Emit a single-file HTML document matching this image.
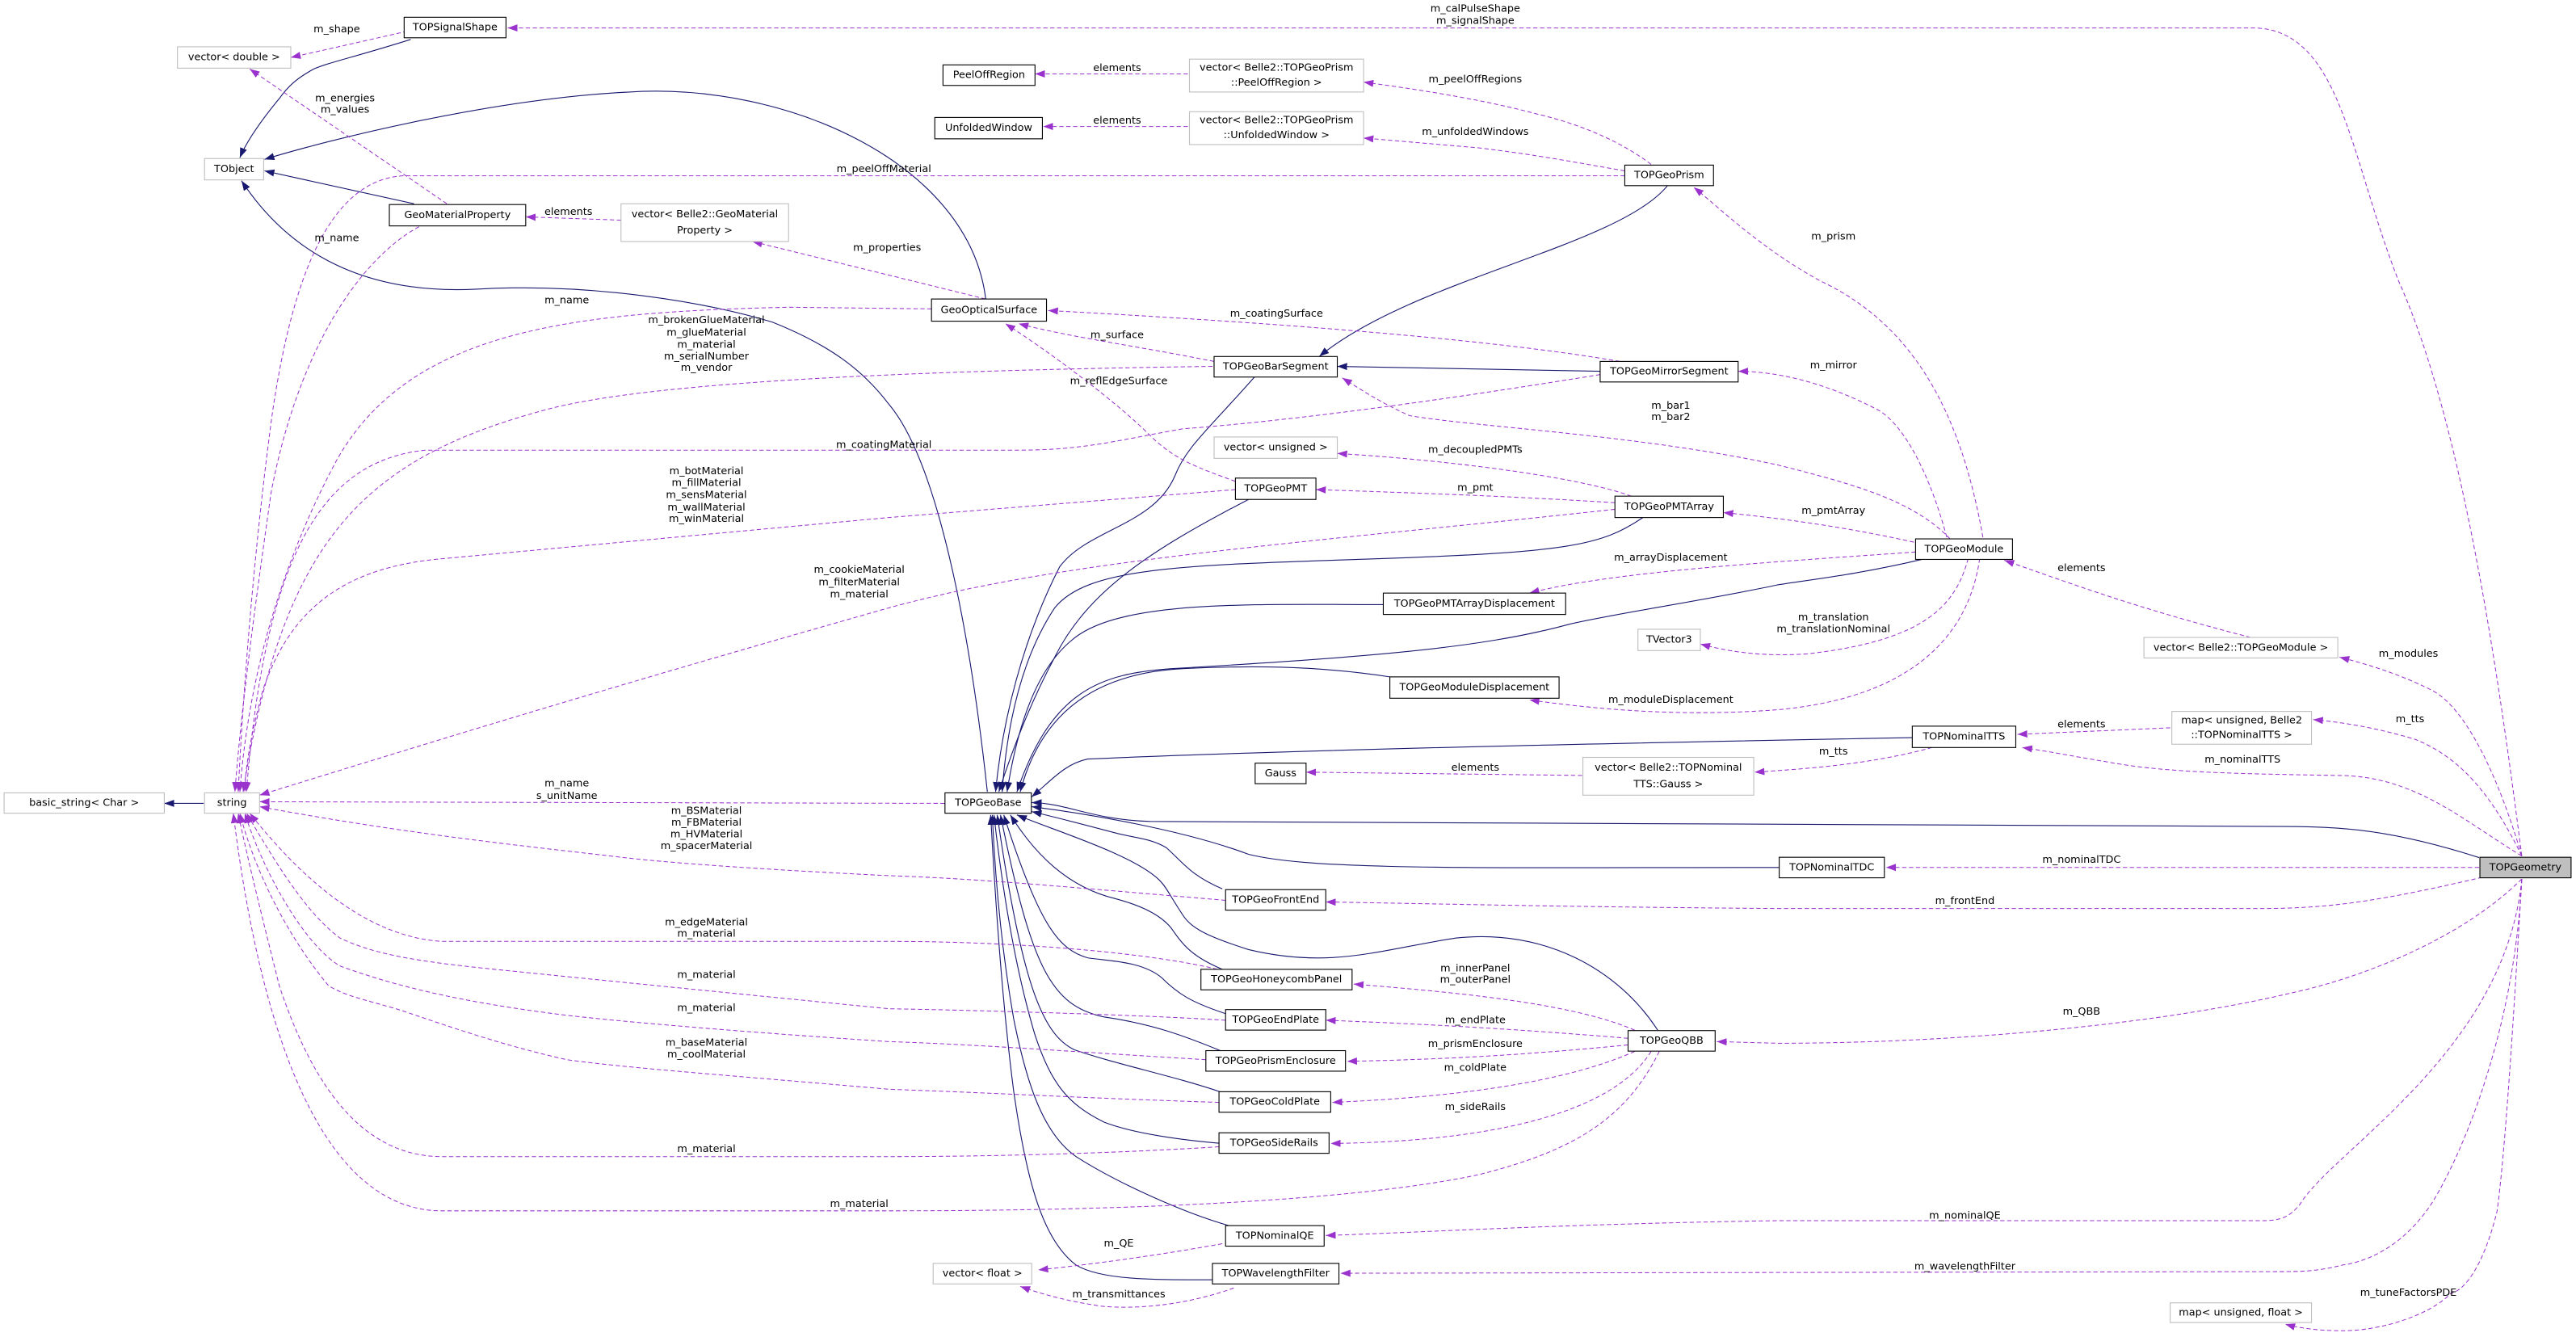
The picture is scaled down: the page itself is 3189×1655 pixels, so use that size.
<!DOCTYPE html>
<html><head><meta charset="utf-8"><style>
html,body{margin:0;padding:0;background:#fff;}
svg{display:block;}
text{font-family:"DejaVu Sans","Liberation Sans",sans-serif;font-size:6.3px;fill:#000;text-anchor:middle;dominant-baseline:central;}
.n{fill:#fff;stroke:#000;stroke-width:0.55;}
.g{fill:#fff;stroke:#bfbfbf;stroke-width:0.55;}
.s{fill:none;stroke:#191970;stroke-width:0.55;}
.d{fill:none;stroke:#9a32cd;stroke-width:0.5;stroke-dasharray:2.6,1.6;}
</style></head><body>
<svg width="3189" height="1655" viewBox="0 0 1568 813.8" preserveAspectRatio="none" xmlns="http://www.w3.org/2000/svg">
<defs>
<marker id="an" markerUnits="userSpaceOnUse" markerWidth="7" markerHeight="5" refX="6" refY="2.2" orient="auto"><path d="M0,0 L6,2.2 L0,4.4 z" fill="#191970"/></marker>
<marker id="ap" markerUnits="userSpaceOnUse" markerWidth="7" markerHeight="5" refX="6" refY="2.2" orient="auto"><path d="M0,0 L6,2.2 L0,4.4 z" fill="#9a32cd"/></marker>
</defs>

<g class="s" marker-end="url(#an)">
<path d="M250,24 C215,35 200,38 191,42 C180,48 175,53 170,60 C160,72 150,86 146,96"/>
<path d="M600,182 C590,100 480,50 383,56 C300,60 200,85 161,97"/>
<path d="M252,124 L161,104"/>
<path d="M601,482 C590,380 570,280 541,246 C525,225 505,210 470,196 C430,184 360,172 290,176 C230,179 180,160 147,110"/>
<path d="M1015,113 C985,150 860,170 803,217"/>
<path d="M974,226 L814,223"/>
<path d="M764,229 C735,262 722,272 715,290 C702,320 662,322 645,345 C622,390 610,440 606,482"/>
<path d="M760,304 C700,335 662,360 642,400 C626,430 615,460 608,482"/>
<path d="M1000,315 C975,332 955,336 841,340 C720,344 662,345 642,370 C622,400 613,440 610,482"/>
<path d="M842,368 C760,368 680,365 652,390 C628,410 618,450 613,482"/>
<path d="M1172,340 C1130,350 1100,353 1082,356 C1040,365 980,374 955,380 C900,395 830,400 713,407 C670,410 640,420 619,482"/>
<path d="M846,412 C800,405 760,405 720,407 C660,410 632,440 621,482"/>
<path d="M1164,449 C1000,452 800,456 662,462 C648,465 640,475 628,485"/>
<path d="M1509,522 C1450,503 1420,503 1376,503 L700,500 C665,499 650,489 628,488.5"/>
<path d="M1083,528 C900,528 800,530 760,520 C720,505 660,495 628,491"/>
<path d="M744,541 C725,533 720,525 710,516 C700,510 690,510 679,507 C660,502 645,498 628,494"/>
<path d="M1009,627 C985,590 940,565 886,571 C840,578 810,590 760,578 C735,570 725,565 720,557 C712,545 710,540 706,536 C690,520 640,505 619,496"/>
<path d="M744,590 C725,582 720,575 713,565 C705,555 690,550 679,547 C650,540 630,520 615,496"/>
<path d="M746,617 C725,610 717,605 707,595 C695,585 675,585 662,583 C645,578 633,565 611,496"/>
<path d="M744,640 C720,630 700,623 672,619 C640,612 628,590 609,496"/>
<path d="M744,665 C715,655 680,648 654,639 C635,630 622,600 607,496"/>
<path d="M744,696 C720,694 690,690 672,683 C650,672 640,660 630,630 C618,590 610,540 605,496"/>
<path d="M748,746 C720,738 680,720 655,704 C635,690 625,660 617,620 C610,580 606,540 604,496"/>
<path d="M738,779 C700,779 670,779 655,770 C635,755 625,720 617,664 C610,610 606,550 603,496"/>
<path d="M124,489 L100,489"/>
</g>

<g class="d" marker-end="url(#ap)">
<path d="M1535,521 C1522,420 1500,260 1460,171 C1430,95 1425,17 1371,17 L309,17"/>
<path d="M248,19 L177,35"/>
<path d="M272,124 L152,42"/>
<path d="M378,134 L320,132"/>
<path d="M255,138 C215,160 180,220 165,300 C155,370 147,430 143,482"/>
<path d="M989,107 L245,107 C200,110 178,170 166,250 C155,330 148,420 145,482"/>
<path d="M567,188 L480,187 C350,190 250,200 205,280 C178,330 152,400 146,482"/>
<path d="M738,223 C600,225 400,230 330,250 C220,280 172,330 148,482"/>
<path d="M974,228 C900,240 800,255 720,261 C680,268 660,274 620,274 L259,274 C200,280 162,330 150,482"/>
<path d="M752,298 L541,315 L270,340 C210,345 177,370 160,420 C152,450 149,470 149,482"/>
<path d="M983,310 C800,330 650,340 541,370 C400,410 300,440 158,484"/>
<path d="M575,489 L158,488"/>
<path d="M746,548 C650,540 600,535 541,533 C480,530 414,526 380,522 C320,515 250,508 158,491"/>
<path d="M741,590 C700,580 620,573 541,573 L269,573 C220,570 180,530 152,495"/>
<path d="M746,621 C700,618 600,615 541,614 C450,605 350,595 311,591 C260,586 230,582 207,571 C185,555 165,520 150,495"/>
<path d="M734,645 C650,640 600,636 541,634 C450,628 380,622 345,618 C280,610 240,600 207,588 C185,575 160,530 149,495"/>
<path d="M742,671 C650,668 600,665 541,663 C450,655 380,650 345,645 C300,635 260,620 241,614 C220,608 210,606 200,600 C175,570 155,530 146,495"/>
<path d="M742,698 C680,702 600,704 541,704 L269,704 C220,704 190,660 170,600 C160,560 150,520 145,495"/>
<path d="M1010,640 C990,680 960,700 900,715 C830,730 700,737 541,737 L269,737 C200,737 160,640 142,495"/>
<path d="M723,45 L630,45"/>
<path d="M1005,100 C985,85 960,75 934,69 C900,60 860,54 830,50"/>
<path d="M989,104 C960,99 934,94 900,90 L830,84"/>
<path d="M723,77 L635,77"/>
<path d="M600,182 L458,147"/>
<path d="M739,220 C700,212 650,205 620,197"/>
<path d="M986,220 C900,205 750,195 638,189"/>
<path d="M752,293 C730,285 715,280 700,265 C680,245 640,215 612,197"/>
<path d="M1187,328 C1165,305 1130,295 1082,283 C1000,265 900,260 858,253 C840,245 825,235 817,230"/>
<path d="M1207,327 C1195,260 1170,200 1108,171 C1070,150 1045,125 1031,114"/>
<path d="M1185,327 C1175,290 1160,260 1144,250 C1110,232 1080,226 1058,226"/>
<path d="M993,302 C960,290 880,280 814,276"/>
<path d="M983,306 C920,302 860,300 801,298"/>
<path d="M1165,330 C1120,320 1080,315 1049,312"/>
<path d="M1166,336 C1080,342 980,348 931,361"/>
<path d="M1198,340 C1190,370 1170,390 1100,398 C1070,400 1050,396 1035,392"/>
<path d="M1205,340 C1198,390 1160,425 1082,432 C1030,436 980,433 931,426"/>
<path d="M1370,388 C1300,370 1260,355 1220,341"/>
<path d="M1535,521 C1520,470 1500,430 1480,420 C1460,410 1440,404 1424,400"/>
<path d="M1535,521 C1515,480 1495,460 1470,450 C1450,444 1430,440 1408,438"/>
<path d="M1321,443 L1228,447"/>
<path d="M1535,521 C1500,500 1470,472 1423,472 C1360,471 1320,470 1290,465 C1260,460 1245,457 1231,455"/>
<path d="M963,472 L795,470"/>
<path d="M1176,455 C1140,465 1100,468 1068,470"/>
<path d="M1509,528 L1148,528"/>
<path d="M1511,534 C1450,548 1420,553 1376,553 L1082,553 C950,552 870,550 807,549"/>
<path d="M1535,535 C1500,570 1440,595 1392,605 C1320,622 1200,635 1082,635 L1045,634"/>
<path d="M1535,535 C1525,640 1420,700 1400,733 C1392,743 1385,743 1374,743 L1082,743 C950,745 870,750 807,752"/>
<path d="M1535,535 C1530,640 1490,720 1477,737 C1460,760 1440,768 1426,770 C1410,774 1400,774 1387,774 L816,775"/>
<path d="M1535,535 C1530,620 1525,700 1520,737 C1512,770 1500,786 1492,787 C1480,800 1450,810 1426,810 C1410,810 1398,808 1391,806"/>
<path d="M744,757 C700,765 660,770 632,773"/>
<path d="M751,784 C720,795 690,797 670,795 C650,792 635,788 621,783"/>
<path d="M995,627 C960,612 900,605 824,599"/>
<path d="M991,632 C920,626 860,623 807,621"/>
<path d="M991,636 C920,643 870,645 820,646"/>
<path d="M995,640 C950,660 880,668 811,671"/>
<path d="M1005,640 C980,680 900,695 810,696"/>
</g>

<g>
<rect class="n" x="246" y="10.5" width="62" height="12.5"/><text x="277" y="16.8">TOPSignalShape</text>
<rect class="g" x="108" y="28.5" width="69" height="13"/><text x="142.5" y="35">vector&lt; double &gt;</text>
<rect class="g" x="124.5" y="96.5" width="36" height="13"/><text x="142.5" y="103">TObject</text>
<rect class="n" x="237" y="124.5" width="83" height="13"/><text x="278.5" y="131">GeoMaterialProperty</text>
<rect class="g" x="378" y="124" width="102" height="23"/><text x="429" y="130.5">vector&lt; Belle2::GeoMaterial</text><text x="429" y="140.5">Property &gt;</text>
<rect class="n" x="574" y="39.5" width="56" height="12.5"/><text x="602" y="45.8">PeelOffRegion</text>
<rect class="g" x="724" y="36" width="106" height="20"/><text x="777" y="41.3">vector&lt; Belle2::TOPGeoPrism</text><text x="777" y="50.3">::PeelOffRegion &gt;</text>
<rect class="n" x="569" y="71.5" width="65.5" height="13"/><text x="601.8" y="78">UnfoldedWindow</text>
<rect class="g" x="724" y="68" width="106" height="20"/><text x="777" y="73.3">vector&lt; Belle2::TOPGeoPrism</text><text x="777" y="82.3">::UnfoldedWindow &gt;</text>
<rect class="n" x="989" y="100.5" width="54" height="12.5"/><text x="1016" y="106.8">TOPGeoPrism</text>
<rect class="n" x="567" y="182" width="70" height="13.5"/><text x="602" y="188.8">GeoOpticalSurface</text>
<rect class="n" x="739" y="217" width="75" height="12.5"/><text x="776.5" y="223.3">TOPGeoBarSegment</text>
<rect class="n" x="974" y="220" width="84" height="12.5"/><text x="1016" y="226.3">TOPGeoMirrorSegment</text>
<rect class="g" x="739" y="266" width="75" height="13"/><text x="776.5" y="272.5">vector&lt; unsigned &gt;</text>
<rect class="n" x="752" y="291" width="49" height="13"/><text x="776.5" y="297.5">TOPGeoPMT</text>
<rect class="n" x="983" y="302" width="66" height="13"/><text x="1016" y="308.5">TOPGeoPMTArray</text>
<rect class="n" x="842" y="361" width="111" height="13"/><text x="897.5" y="367.5">TOPGeoPMTArrayDisplacement</text>
<rect class="g" x="997" y="383" width="38" height="13"/><text x="1016" y="389.5">TVector3</text>
<rect class="n" x="846" y="412" width="103" height="13"/><text x="897.5" y="418.5">TOPGeoModuleDisplacement</text>
<rect class="n" x="1166" y="328" width="59" height="12.5"/><text x="1195.5" y="334.3">TOPGeoModule</text>
<rect class="g" x="1305" y="388" width="118" height="12.5"/><text x="1364" y="394.3">vector&lt; Belle2::TOPGeoModule &gt;</text>
<rect class="n" x="1164" y="442" width="63" height="13"/><text x="1195.5" y="448.5">TOPNominalTTS</text>
<rect class="g" x="1322" y="433" width="85" height="20"/><text x="1364.5" y="438.5">map&lt; unsigned, Belle2</text><text x="1364.5" y="447.5">::TOPNominalTTS &gt;</text>
<rect x="1509.5" y="521.8" width="55.5" height="12.5" fill="#bfbfbf" stroke="#000" stroke-width="0.55"/><text x="1537.2" y="528">TOPGeometry</text>
<rect class="n" x="1083" y="521.8" width="64" height="12.5"/><text x="1115" y="528">TOPNominalTDC</text>
<rect class="n" x="764" y="464.5" width="31" height="12.5"/><text x="779.5" y="470.8">Gauss</text>
<rect class="g" x="963.5" y="461" width="104" height="23"/><text x="1015.5" y="467.5">vector&lt; Belle2::TOPNominal</text><text x="1015.5" y="477.5">TTS::Gauss &gt;</text>
<rect class="n" x="575.2" y="482.6" width="52.6" height="12.4"/><text x="601.5" y="488.8">TOPGeoBase</text>
<rect class="g" x="124.5" y="482.6" width="33.5" height="12.4"/><text x="141.2" y="488.8">string</text>
<rect class="g" x="2.5" y="482.6" width="97.5" height="12.4"/><text x="51.2" y="488.8">basic_string&lt; Char &gt;</text>
<rect class="n" x="746" y="541.5" width="61" height="12.5"/><text x="776.5" y="547.8">TOPGeoFrontEnd</text>
<rect class="n" x="731" y="590" width="92" height="12.5"/><text x="777" y="596.3">TOPGeoHoneycombPanel</text>
<rect class="n" x="746" y="614.5" width="61" height="12.5"/><text x="776.5" y="620.8">TOPGeoEndPlate</text>
<rect class="n" x="734" y="639.5" width="85" height="12.5"/><text x="776.5" y="645.8">TOPGeoPrismEnclosure</text>
<rect class="n" x="991" y="627.3" width="53" height="12.5"/><text x="1017.5" y="633.5">TOPGeoQBB</text>
<rect class="n" x="742" y="664.5" width="68" height="12.5"/><text x="776" y="670.8">TOPGeoColdPlate</text>
<rect class="n" x="742" y="689.5" width="67" height="12.5"/><text x="775.5" y="695.8">TOPGeoSideRails</text>
<rect class="n" x="746" y="746" width="60" height="12.5"/><text x="776" y="752.3">TOPNominalQE</text>
<rect class="g" x="568" y="769" width="60" height="12.5"/><text x="598" y="775.3">vector&lt; float &gt;</text>
<rect class="n" x="738" y="769" width="77" height="12.5"/><text x="776.5" y="775.3">TOPWavelengthFilter</text>
<rect class="g" x="1321" y="793" width="86" height="12"/><text x="1364" y="799">map&lt; unsigned, float &gt;</text>
</g>

<g>
<text x="898" y="5.5">m_calPulseShape</text><text x="898" y="12.8">m_signalShape</text>
<text x="205" y="18">m_shape</text>
<text x="210" y="60">m_energies</text><text x="210" y="67">m_values</text>
<text x="346" y="129">elements</text>
<text x="205" y="145">m_name</text>
<text x="538" y="103">m_peelOffMaterial</text>
<text x="345" y="183">m_name</text>
<text x="430" y="195">m_brokenGlueMaterial</text><text x="430" y="202.5">m_glueMaterial</text><text x="430" y="210">m_material</text><text x="430" y="217">m_serialNumber</text><text x="430" y="224">m_vendor</text>
<text x="538" y="271">m_coatingMaterial</text>
<text x="430" y="287">m_botMaterial</text><text x="430" y="294">m_fillMaterial</text><text x="430" y="301.5">m_sensMaterial</text><text x="430" y="309">m_wallMaterial</text><text x="430" y="316">m_winMaterial</text>
<text x="523" y="347">m_cookieMaterial</text><text x="523" y="354.5">m_filterMaterial</text><text x="523" y="362">m_material</text>
<text x="345" y="477">m_name</text><text x="345" y="484.5">s_unitName</text>
<text x="430" y="493.6">m_BSMaterial</text><text x="430" y="500.8">m_FBMaterial</text><text x="430" y="508">m_HVMaterial</text><text x="430" y="515.2">m_spacerMaterial</text>
<text x="430" y="561.5">m_edgeMaterial</text><text x="430" y="568.5">m_material</text>
<text x="430" y="593.5">m_material</text>
<text x="430" y="613.7">m_material</text>
<text x="430" y="634.7">m_baseMaterial</text><text x="430" y="642">m_coolMaterial</text>
<text x="430" y="699.5">m_material</text>
<text x="523" y="733">m_material</text>
<text x="680" y="41.5">elements</text>
<text x="680" y="73.5">elements</text>
<text x="898" y="48.5">m_peelOffRegions</text>
<text x="898" y="80.5">m_unfoldedWindows</text>
<text x="540" y="151">m_properties</text>
<text x="680" y="204">m_surface</text>
<text x="777" y="191">m_coatingSurface</text>
<text x="681" y="232">m_reflEdgeSurface</text>
<text x="1116" y="144">m_prism</text>
<text x="1116" y="222.5">m_mirror</text>
<text x="1017" y="247">m_bar1</text><text x="1017" y="254">m_bar2</text>
<text x="898" y="274">m_decoupledPMTs</text>
<text x="898" y="297">m_pmt</text>
<text x="1116" y="311">m_pmtArray</text>
<text x="1017" y="339.5">m_arrayDisplacement</text>
<text x="1116" y="376">m_translation</text><text x="1116" y="383">m_translationNominal</text>
<text x="1017" y="426">m_moduleDisplacement</text>
<text x="1267" y="346">elements</text>
<text x="1466" y="398">m_modules</text>
<text x="1467" y="438">m_tts</text>
<text x="1267" y="441">elements</text>
<text x="1365" y="462.5">m_nominalTTS</text>
<text x="898" y="467.5">elements</text>
<text x="1116" y="457.5">m_tts</text>
<text x="1267" y="523.5">m_nominalTDC</text>
<text x="1196" y="548.5">m_frontEnd</text>
<text x="1267" y="616">m_QBB</text>
<text x="1196" y="740">m_nominalQE</text>
<text x="1196" y="771">m_wavelengthFilter</text>
<text x="1466" y="787">m_tuneFactorsPDE</text>
<text x="898" y="589.5">m_innerPanel</text><text x="898" y="596.5">m_outerPanel</text>
<text x="898" y="621">m_endPlate</text>
<text x="898" y="635.6">m_prismEnclosure</text>
<text x="898" y="650">m_coldPlate</text>
<text x="898" y="674">m_sideRails</text>
<text x="681" y="757">m_QE</text>
<text x="681" y="788">m_transmittances</text>
</g>
</svg>
</body></html>
